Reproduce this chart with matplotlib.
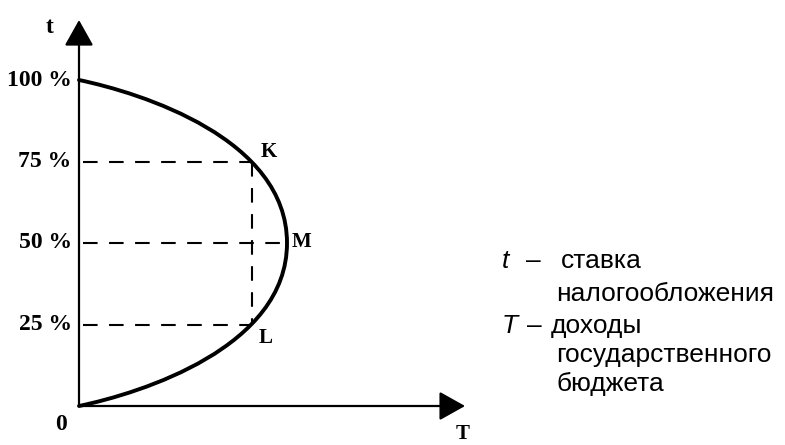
import numpy as np
import matplotlib
matplotlib.use('Agg')
import matplotlib.pyplot as plt
from matplotlib.path import Path
from matplotlib.patches import PathPatch

# Laffer curve: end points, maximum M and Bezier control points
# (T = budget income, M = 1; t = tax rate in %)
curve_T = [0.0, 0.30, 1.0, 1.0, 1.0, 0.30, 0.0]
curve_t = [0.0, 4.0, 18.0, 50.0, 82.0, 96.0, 100.0]

tick_values = [100, 75, 50, 25]
tick_labels = ['100 %', '75 %', '50 %', '25 %']

points = ['K', 'M', 'L']
point_T = [0.832, 1.0, 0.832]
point_t = [75, 50, 25]

legend_lines = ['ставка', 'налогообложения', 'доходы', 'государственного', 'бюджета']

serif = 'Liberation Serif'
sans = 'Liberation Sans'

fig = plt.figure(figsize=(7.85, 4.45), dpi=100)
ax = fig.add_axes([0, 0, 1, 1])
ax.set_xlim(-79 / 208, (785 - 79) / 208)
ax.set_ylim(-39 / 3.26, 406 / 3.26)
ax.axis('off')

# axes with arrows
arr = dict(arrowstyle='-|>,head_length=1.0,head_width=0.56', color='black', lw=1.6,
           shrinkA=0, shrinkB=0, mutation_scale=16)
ax.annotate('', xy=(0, 118.4), xytext=(0, 0), arrowprops=arr)
ax.annotate('', xy=(1.856, 0), xytext=(0, 0), arrowprops=arr)

# dashed guides
dash = dict(color='black', lw=1.5, dashes=(7, 5.5))
for tv, Tv in zip(point_t, point_T):
    ax.plot([0.02, Tv], [tv, tv], **dash)
ax.plot([point_T[0], point_T[2]], [point_t[0], point_t[2]], **dash)

# Laffer curve
codes = [Path.MOVETO] + [Path.CURVE4] * 6
curve = Path(list(zip(curve_T, curve_t)), codes)
ax.add_patch(PathPatch(curve, facecolor='none', edgecolor='black', lw=2.8, capstyle='round'))

# tick labels
for tv, lab in zip(tick_values, tick_labels):
    ax.text(-0.035, tv, lab, ha='right', va='center', fontsize=17, fontweight='bold', family=serif)

# point labels
offsets = {'K': (0.04, 3.0), 'M': (0.02, 0.3), 'L': (0.03, -4.2)}
for name, Tv, tv in zip(points, point_T, point_t):
    dx, dy = offsets[name]
    ax.text(Tv + dx, tv + dy, name, ha='left', va='center', fontsize=15, fontweight='bold', family=serif)

ax.text(-0.139, 116, 't', ha='center', va='center', fontsize=17, fontweight='bold', family=serif)
ax.text(-0.087, -5.8, '0', ha='center', va='center', fontsize=17, fontweight='bold', family=serif)
ax.text(1.846, -5.6, 'T', ha='center', va='top', fontsize=15, fontweight='bold', family=serif)

# legend text on the right
W, H = 785, 445
fs = 19
kw = dict(fontsize=fs, family=sans, va='baseline')
fig.text(502 / W, 1 - 268 / H, 't', style='italic', **kw)
fig.text(526 / W, 1 - 268 / H, '–', **kw)
fig.text(561 / W, 1 - 268 / H, legend_lines[0], **kw)
fig.text(556 / W, 1 - 301 / H, legend_lines[1], **kw)
fig.text(502 / W, 1 - 333 / H, 'T', style='italic', **kw)
fig.text(527 / W, 1 - 333 / H, '–', **kw)
fig.text(551 / W, 1 - 333 / H, legend_lines[2], **kw)
fig.text(556 / W, 1 - 362 / H, legend_lines[3], **kw)
fig.text(556 / W, 1 - 391 / H, legend_lines[4], **kw)

fig.savefig('out.png', dpi=100)
